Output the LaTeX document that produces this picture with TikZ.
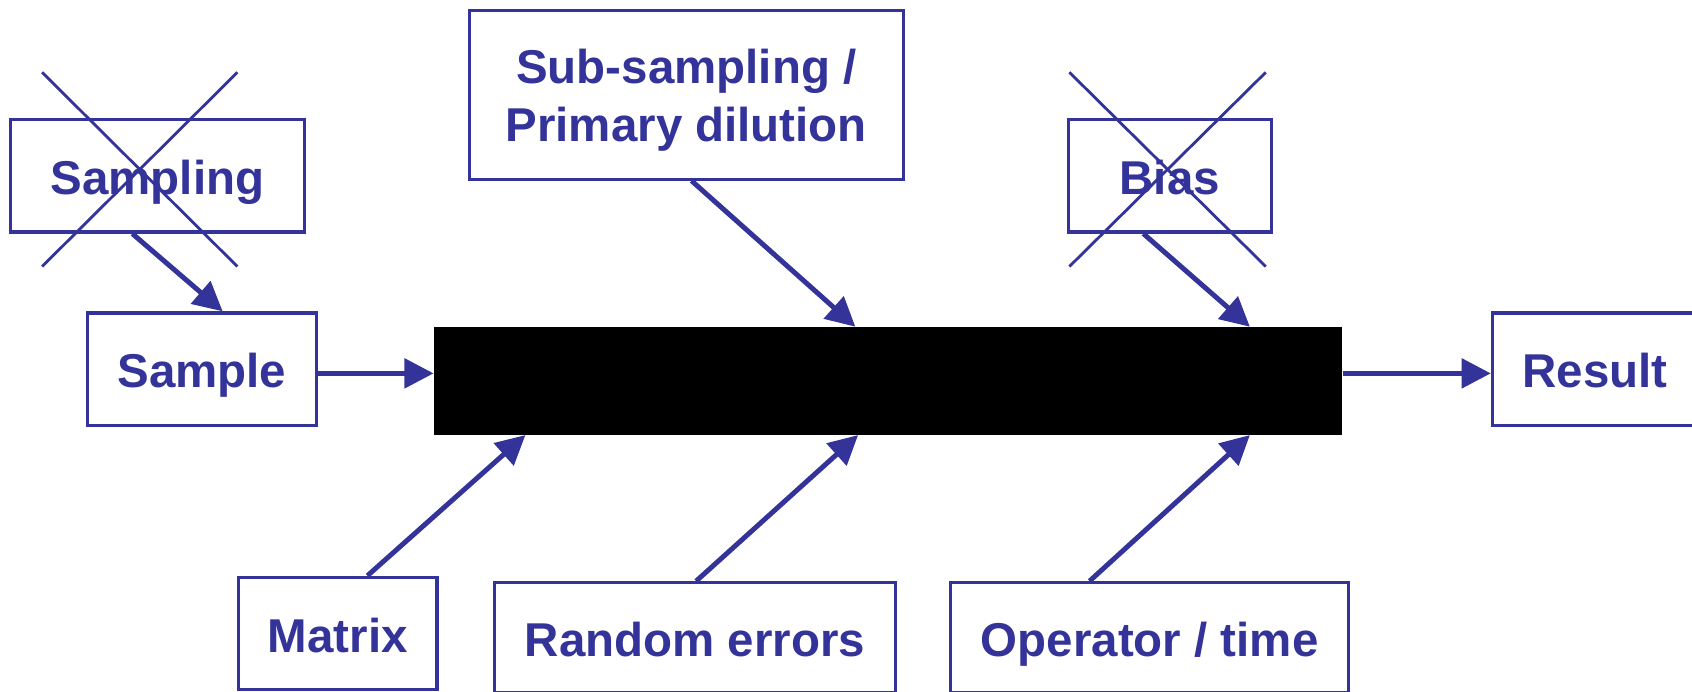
\documentclass[tikz,border=0pt]{standalone}
\usepackage{fontspec}
\setmainfont{Liberation Sans}
\usetikzlibrary{arrows.meta,calc}
\definecolor{ink}{RGB}{51,51,153}
\tikzset{
  box/.style={draw=ink, line width=3pt, fill=white, text=ink, inner sep=0pt,
    font=\fontsize{44}{54}\selectfont\bfseries, align=center},
  oneline/.style={box, text height=44pt, text depth=9pt},
  feed/.style={draw=ink, line width=4.6pt,
    -{Triangle[length=27pt,width=27pt]}},
  strike/.style={draw=ink, line width=2.6pt}
}
\begin{document}
\begin{tikzpicture}[x=1pt,y=-1pt]
\path[use as bounding box, clip] (0,0) rectangle (1568,641);

% boxes
\node[oneline, minimum width=272pt, minimum height=104pt] (sampling) at (146,163) {Sampling};
\node[oneline, minimum width=212pt, minimum height=104pt] (sample) at (187,342) {Sample};
\node[box, minimum width=402pt, minimum height=156pt] (subsampling) at (636,88)
  {\rule{0pt}{41pt}Sub-sampling /\\Primary dilution};
\node[oneline, minimum width=188pt, minimum height=104pt] (bias) at (1084,163) {Bias};
\node[oneline, minimum width=190pt, minimum height=104pt] (result) at (1478,342) {Result};
\node[oneline, minimum width=184pt, minimum height=104pt] (matrix) at (313,587) {Matrix};
\node[oneline, minimum width=372pt, minimum height=102pt] (random) at (644,591) {Random errors};
\node[oneline, minimum width=369pt, minimum height=102pt] (operator) at (1065.5,591) {Operator / time};

% the process block
\node[draw=none, fill=black, minimum width=842pt, minimum height=100pt, inner sep=0pt] (process) at (823,353) {};

% crossed-out factors
\draw[strike] (39,67) -- (220,247);
\draw[strike] (220,67) -- (39,247);
\draw[strike] (991,67) -- (1173,247);
\draw[strike] (1173,67) -- (991,247);

% main axis
\coordinate (axis) at (0,346);
\draw[feed] (sample.east |- axis) -- (process.west |- axis);
\draw[feed] (process.east |- axis) -- (result.west |- axis);

% influences
\draw[feed] ($(sampling.south west)!0.415!(sampling.south east)$) -- ($(sample.north west)!0.59!(sample.north east)$);
\draw[feed] ($(subsampling.south west)!0.512!(subsampling.south east)$) -- ($(process.north west)!0.464!(process.north east)$);
\draw[feed] ($(bias.south west)!0.372!(bias.south east)$) -- ($(process.north west)!0.898!(process.north east)$);
\draw[feed] ($(matrix.north west)!0.647!(matrix.north east)$) -- ($(process.south west)!0.101!(process.south east)$);
\draw[feed] ($(random.north west)!0.503!(random.north east)$) -- ($(process.south west)!0.467!(process.south east)$);
\draw[feed] ($(operator.north west)!0.35!(operator.north east)$) -- ($(process.south west)!0.898!(process.south east)$);
\end{tikzpicture}
\end{document}
